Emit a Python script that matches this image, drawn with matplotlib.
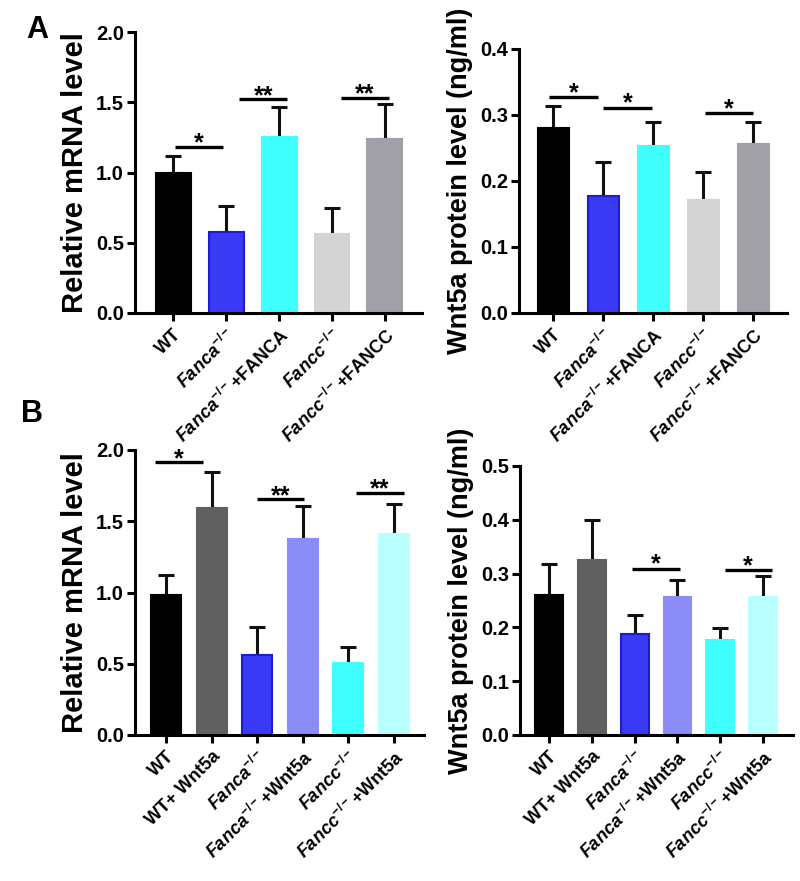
import matplotlib
matplotlib.use("Agg")
import matplotlib.pyplot as plt

plt.rcParams['font.family'] = ['Liberation Sans', 'DejaVu Sans']
plt.rcParams['font.weight'] = 'bold'
plt.rcParams['mathtext.fontset'] = 'custom'
plt.rcParams['mathtext.it'] = 'Liberation Sans:italic:bold'
plt.rcParams['mathtext.rm'] = 'Liberation Sans:bold'

# ---- Data ----
labels_a = [r'WT', r'$\it{Fanca}^{-/-}$', r'$\it{Fanca}^{-/-}$+FANCA',
            r'$\it{Fancc}^{-/-}$', r'$\it{Fancc}^{-/-}$+FANCC']
mrna_a = [1.00, 0.575, 1.25, 0.563, 1.235]
mrna_a_err = [0.117, 0.187, 0.213, 0.187, 0.249]
prot_a = [0.281, 0.178, 0.253, 0.171, 0.256]
prot_a_err = [0.032, 0.051, 0.037, 0.043, 0.033]
colors_a = ['#000000', '#3a3af5', '#40ffff', '#d4d4d4', '#a0a0a6']
edges_a = ['#000000', '#1c1cd0', '#40ffff', '#d4d4d4', '#a0a0a6']

labels_b = [r'WT', r'WT+ Wnt5a', r'$\it{Fanca}^{-/-}$', r'$\it{Fanca}^{-/-}$+Wnt5a',
            r'$\it{Fancc}^{-/-}$', r'$\it{Fancc}^{-/-}$+Wnt5a']
mrna_b = [0.981, 1.59, 0.564, 1.375, 0.503, 1.41]
mrna_b_err = [0.145, 0.258, 0.195, 0.232, 0.115, 0.208]
prot_b = [0.260, 0.326, 0.187, 0.257, 0.176, 0.257]
prot_b_err = [0.057, 0.073, 0.036, 0.032, 0.023, 0.038]
colors_b = ['#000000', '#606060', '#3a3af5', '#8c8cf8', '#40ffff', '#b8ffff']
edges_b = ['#000000', '#606060', '#1c1cd0', '#8c8cf8', '#40ffff', '#b8ffff']

# significance: (x_start, x_end, y, text)
sig_a_mrna = [(0.04, 0.94, 1.183, '*'), (1.25, 2.15, 1.52, '**'), (3.17, 4.08, 1.53, '**')]
sig_a_prot = [(-0.08, 0.9, 0.327, '*'), (1.0, 1.98, 0.311, '*'), (3.04, 4.0, 0.303, '*')]
sig_b_mrna = [(-0.24, 0.81, 1.913, '*'), (2.0, 3.03, 1.653, '**'), (4.17, 5.22, 1.70, '**')]
sig_b_prot = [(1.93, 3.05, 0.309, '*'), (4.1, 5.2, 0.306, '*')]

W, H = 800, 881
fig = plt.figure(figsize=(W / 100, H / 100), dpi=100)

def fr(x0, x1, ytop, ybot):
    return [x0 / W, 1 - ybot / H, (x1 - x0) / W, (ybot - ytop) / H]

def panel(rect, labels, vals, errs, cols, edges, ylim, yticks, ylabel, ylsize, xlim, width,
          sigs, star_off):
    ax = fig.add_axes(rect)
    x = list(range(len(vals)))
    ax.bar(x, vals, width=width, color=cols, edgecolor=edges, linewidth=1.5, zorder=2)
    ax.errorbar(x, vals, yerr=[[0] * len(vals), errs], fmt='none', ecolor='#111111',
                elinewidth=2.2, capsize=6, capthick=2.2, zorder=1)
    ax.set_xlim(*xlim)
    ax.set_ylim(*ylim)
    ax.set_yticks(yticks)
    ax.set_yticklabels([f'{t:.1f}' for t in yticks], fontsize=14.5, fontweight='bold')
    ax.set_xticks(x)
    ax.set_xticklabels(labels, rotation=45, ha='right', rotation_mode='anchor',
                       fontsize=13, fontweight='bold')
    ax.set_ylabel(ylabel, fontsize=ylsize, fontweight='bold', labelpad=5)
    for s in ['top', 'right']:
        ax.spines[s].set_visible(False)
    for s in ['left', 'bottom']:
        ax.spines[s].set_linewidth(2.2)
    ax.tick_params(axis='both', direction='out', length=6, width=2.2)
    ax.tick_params(axis='y', pad=2)
    ax.tick_params(axis='x', pad=3)
    for xs, xe, y, t in sigs:
        ax.plot([xs, xe], [y, y], color='black', lw=2.4, solid_capstyle='butt', clip_on=False)
        ax.text((xs + xe) / 2, y + star_off, t, ha='center', va='center', fontsize=18,
                fontweight='bold', clip_on=False)
    return ax

panel(fr(135, 422, 32, 313), labels_a, mrna_a, mrna_a_err, colors_a, edges_a,
      (0, 2.0), [0.0, 0.5, 1.0, 1.5, 2.0], 'Relative mRNA level', 21, (-0.72, 4.7), 0.66,
      sig_a_mrna, 0.025)
panel(fr(519, 787, 49, 313), labels_a, prot_a, prot_a_err, colors_a, edges_a,
      (0, 0.4), [0.0, 0.1, 0.2, 0.3, 0.4], 'Wnt5a protein level (ng/ml)', 19.5, (-0.68, 4.68), 0.62,
      sig_a_prot, 0.006)
panel(fr(135, 424, 450, 735), labels_b, mrna_b, mrna_b_err, colors_b, edges_b,
      (0, 2.0), [0.0, 0.5, 1.0, 1.5, 2.0], 'Relative mRNA level', 21, (-0.68, 5.66), 0.66,
      sig_b_mrna, 0.025)
panel(fr(520, 793, 466, 735), labels_b, prot_b, prot_b_err, colors_b, edges_b,
      (0, 0.5), [0.0, 0.1, 0.2, 0.3, 0.4, 0.5], 'Wnt5a protein level (ng/ml)', 19.5, (-0.68, 5.70), 0.65,
      sig_b_prot, 0.008)

fig.text(37 / W, 1 - 30 / H, 'A', fontsize=22, fontweight='bold', ha='center', va='center')
fig.text(32 / W, 1 - 414 / H, 'B', fontsize=22, fontweight='bold', ha='center', va='center')

fig.savefig('out.png', dpi=100)
